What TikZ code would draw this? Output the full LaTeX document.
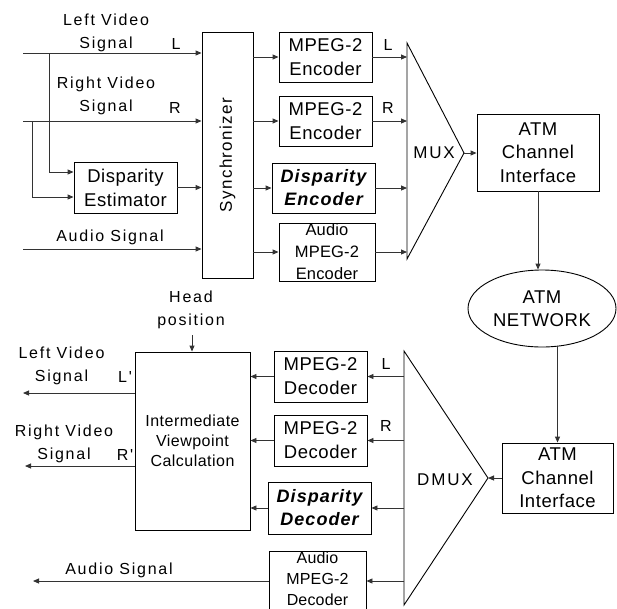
\documentclass[tikz,border=0pt]{standalone}
\usepackage{fontspec}
\setmainfont[LetterSpace=3]{Liberation Sans}
\newfontfamily\lblfont[LetterSpace=11]{Liberation Sans}
\newfontfamily\audiofont[LetterSpace=1]{Liberation Sans}
\newfontfamily\bifont[LetterSpace=6]{Liberation Sans}
\newfontfamily\ivcfont[LetterSpace=3]{Liberation Sans}
\newfontfamily\syncfont[LetterSpace=8]{Liberation Sans}
\usetikzlibrary{arrows.meta,shapes.geometric,calc}
\tikzset{
  box/.style={draw=black, line width=0.9pt, inner sep=0pt, align=center, font=\fontsize{18.5}{24}\selectfont},
  smallbox/.style={box, font=\audiofont\fontsize{16.5}{22}\selectfont},
  boldbox/.style={box, font=\bifont\fontsize{18}{23}\selectfont\bfseries\itshape},
  lbl/.style={inner sep=0pt, align=center, font=\lblfont\fontsize{16}{23}\selectfont},
  conn/.style={draw=black!80, line width=0.9pt},
  arr/.style={conn, -{Triangle[length=6pt,width=5pt]}},
}
\begin{document}
\begin{tikzpicture}[x=1pt,y=-1pt]
\clip (0,0) rectangle (617,608);
\fill[white] (0,0) rectangle (617,608);
% ---------- transmitter ----------
\node[box, minimum width=51pt, minimum height=246pt] (sync) at (227.5,155) {};
\node[inner sep=0pt, rotate=90, font=\syncfont\fontsize{17}{20}\selectfont] (synctext) at (sync.center) {Synchronizer};
\node[box, minimum width=103pt, minimum height=51pt] (est) at (125.5,187.5) {Disparity\\Estimator};
\node[box, minimum width=93pt, minimum height=50pt] (enc1) at (325.5,57) {MPEG-2\\Encoder};
\node[box, minimum width=93pt, minimum height=50pt] (enc2) at (325.5,121) {MPEG-2\\Encoder};
\node[boldbox, minimum width=103pt, minimum height=50pt] (denc) at (323.5,188) {Disparity\\Encoder};
\node[smallbox, minimum width=96pt, minimum height=58pt] (aenc) at (327,252) {Audio\\MPEG-2\\Encoder};
\draw[line width=0.9pt] (407,43) coordinate (muxtop) -- (464,153) coordinate (muxtip) -- (407,259) coordinate (muxbot) -- cycle;
\node[lbl, font=\lblfont\fontsize{17}{20}\selectfont] (muxlbl) at (434,153) {MUX};
\node[box, minimum width=122pt, minimum height=77pt, font=\fontsize{18.5}{23.5}\selectfont] (atm1) at (538,152.5) {ATM\\Channel\\Interface};
\node[draw, ellipse, line width=0.9pt, minimum width=148pt, minimum height=77pt, inner sep=0pt, align=center, font=\fontsize{18.5}{23.5}\selectfont] (net) at (542,308.5) {ATM\\NETWORK};
% inputs
\coordinate (lin) at (23,53);
\coordinate (rin) at (23,121);
\coordinate (ain) at (23,249);
\coordinate (lbr) at (49,53);
\coordinate (rbr) at (32,121);
\draw[arr] (lin) -- (lin -| sync.west);
\draw[arr] (rin) -- (rin -| sync.west);
\draw[arr] (ain) -- (ain -| sync.west);
\coordinate (estin1) at ($(est.west)+(0,-15.5)$);
\coordinate (estin2) at ($(est.west)+(0,9.5)$);
\draw[arr] (lbr) |- (estin1);
\draw[arr] (rbr) |- (estin2);
\draw[arr] (est.east) -- (est.east -| sync.west);
\node[lbl] (lvs) at (106,32.5) {Left Video\\Signal};
\node[lbl] (lL) at (176,44) {L};
\node[lbl] (rvs) at (106,95.5) {Right Video\\Signal};
\node[lbl] (lR) at (175,108) {R};
\node[lbl] (aus) at (110,237) {Audio Signal};
% sync to encoders
\draw[arr] (sync.east |- enc1.west) -- (enc1.west);
\draw[arr] (sync.east |- enc2.west) -- (enc2.west);
\draw[arr] (sync.east |- denc.west) -- (denc.west);
\draw[arr] (sync.east |- aenc.west) -- (aenc.west);
% encoders to mux
\draw[arr] (enc1.east) -- (enc1.east -| muxtop);
\draw[arr] (enc2.east) -- (enc2.east -| muxtop);
\draw[arr] (denc.east) -- (denc.east -| muxtop);
\draw[arr] (aenc.east) -- (aenc.east -| muxtop);
\node[lbl] (mL) at (388,45) {L};
\node[lbl] (mR) at (388,108) {R};
\draw[arr] (muxtip) -- (muxtip -| atm1.west);
\coordinate (netin) at (538,0);
\draw[arr] (atm1.south -| netin) -- (net.north -| netin);
% ---------- receiver ----------
\node[box, minimum width=111pt, minimum height=70pt, font=\fontsize{18.5}{23.5}\selectfont] (atm2) at (557.5,478) {ATM\\Channel\\Interface};
\coordinate (netout) at ($(net.south)+(15.5,-1.5)$);
\draw[arr] (netout) -- (netout |- atm2.north);
\draw[line width=0.9pt] (404,351) coordinate (dmtop) -- (488,478) coordinate (dmtip) -- (404,605) coordinate (dmbot) -- cycle;
\node[lbl, font=\lblfont\fontsize{17}{20}\selectfont] (dmuxlbl) at (445,480) {DMUX};
\draw[arr] (atm2.west) -- (dmtip);
\node[box, minimum width=93pt, minimum height=51pt] (dec1) at (320.5,376.5) {MPEG-2\\Decoder};
\node[box, minimum width=93pt, minimum height=51pt] (dec2) at (320.5,440.5) {MPEG-2\\Decoder};
\node[boldbox, minimum width=103pt, minimum height=52pt] (ddec) at (319.5,508) {Disparity\\Decoder};
\node[box, minimum width=97pt, minimum height=62pt] (adec) at (317.5,582) {};
\node[inner sep=0pt, align=center, font=\audiofont\fontsize{16}{21}\selectfont] (adectext) at (317.5,578.5) {Audio\\MPEG-2\\Decoder};
\coordinate (adecin) at (0,581);
\draw[arr] (dmtop |- dec1.east) -- (dec1.east);
\draw[arr] (dmtop |- dec2.east) -- (dec2.east);
\draw[arr] (dmtop |- ddec.east) -- (ddec.east);
\draw[arr] (dmtop |- adecin) -- (adec.east |- adecin);
\node[lbl] (dL) at (386,364) {L};
\node[lbl] (dR) at (386,426) {R};
\node[box, minimum width=115pt, minimum height=178pt, font=\ivcfont\fontsize{16}{20}\selectfont] (ivc) at (192.5,441) {Intermediate\\Viewpoint\\Calculation};
\draw[arr] (dec1.west) -- (dec1.west -| ivc.east);
\draw[arr] (dec2.west) -- (dec2.west -| ivc.east);
\draw[arr] (ddec.west) -- (ddec.west -| ivc.east);
\node[lbl] (head) at (191,309.5) {Head\\position};
\coordinate (headin) at (192,335);
\draw[arr] (headin) -- (headin |- ivc.north);
\coordinate (lout) at (23,393);
\coordinate (rout) at (25,466);
\coordinate (aout) at (33,581);
\draw[arr] (ivc.west |- lout) -- (lout);
\draw[arr] (ivc.west |- rout) -- (rout);
\draw[arr] (adec.west |- aout) -- (aout);
\node[lbl] (olvs) at (61.5,365.5) {Left Video\\Signal};
\node[lbl] (oL) at (125,377) {L'};
\node[lbl] (orvs) at (64,443.5) {Right Video\\Signal};
\node[lbl] (oR) at (125,455) {R'};
\node[lbl] (oaus) at (119,570) {Audio Signal};
\end{tikzpicture}
\end{document}
